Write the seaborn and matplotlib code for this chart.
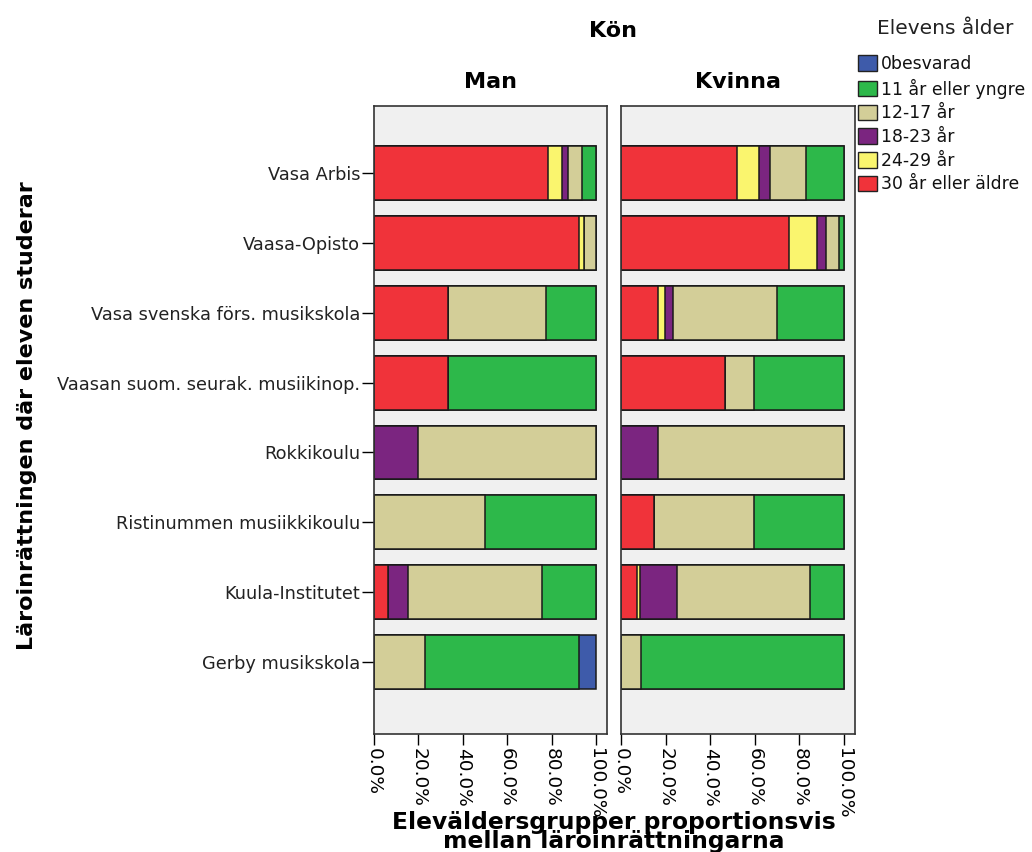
import pandas as pd
import matplotlib
matplotlib.use("Agg")
import matplotlib.pyplot as plt
from matplotlib.patches import Patch
import seaborn as sns

SKOLOR = ["Vasa Arbis", "Vaasa-Opisto", "Vasa svenska förs. musikskola",
          "Vaasan suom. seurak. musiikinop.", "Rokkikoulu",
          "Ristinummen musiikkikoulu", "Kuula-Institutet", "Gerby musikskola"]

# åldersgrupper i staplingsordning (vänster -> höger)
ALDER = ["30 år eller äldre", "24-29 år", "18-23 år", "12-17 år",
         "11 år eller yngre", "0besvarad"]
FARGER = ["#F0333A", "#FAF56E", "#7B2580", "#D3CE98", "#2DB84A", "#3E5BAA"]

KON = ["Man", "Kvinna"]

# procent per åldersgrupp, i skolornas ordning
MAN_30 = [78.5, 92.5, 33.3, 33.3, 0, 0, 6.5, 0]
MAN_24 = [6.0, 2.2, 0, 0, 0, 0, 0, 0]
MAN_18 = [3.0, 0, 0, 0, 20.0, 0, 8.7, 0]
MAN_12 = [6.3, 5.3, 44.4, 0, 80.0, 50.0, 60.3, 23.1]
MAN_11 = [6.2, 0, 22.3, 66.7, 0, 50.0, 24.5, 69.2]
MAN_0 = [0, 0, 0, 0, 0, 0, 0, 7.7]

KVI_30 = [52.1, 75.4, 16.6, 46.8, 0, 14.9, 7.2, 0]
KVI_24 = [9.7, 12.7, 3.1, 0, 0, 0, 1.5, 0]
KVI_18 = [5.1, 3.8, 3.8, 0, 16.7, 0, 16.6, 0]
KVI_12 = [16.1, 5.7, 46.7, 13.1, 83.3, 45.0, 59.5, 9.0]
KVI_11 = [17.0, 2.4, 29.8, 40.1, 0, 40.1, 15.2, 91.0]
KVI_0 = [0, 0, 0, 0, 0, 0, 0, 0]

VARDEN = {
    "Man": [MAN_30, MAN_24, MAN_18, MAN_12, MAN_11, MAN_0],
    "Kvinna": [KVI_30, KVI_24, KVI_18, KVI_12, KVI_11, KVI_0],
}

# långt format + kumulativa summor för staplingen
rader = []
for kon in KON:
    for a, alder in enumerate(ALDER):
        for s, skola in enumerate(SKOLOR):
            rader.append({"kon": kon, "alder": alder, "skola": skola,
                          "andel": VARDEN[kon][a][s], "ordning": a})
df = pd.DataFrame(rader).sort_values(["kon", "skola", "ordning"])
df["kum"] = df.groupby(["kon", "skola"])["andel"].cumsum()

sns.set_style("white")
plt.rcParams["font.family"] = ["DejaVu Sans"]
plt.rcParams["text.color"] = "black"
plt.rcParams["xtick.color"] = "black"
plt.rcParams["ytick.color"] = "black"

fig = plt.figure(figsize=(10.32, 8.52), dpi=100)
H = 852
W = 1032
paneler = {"Man": (374, 607), "Kvinna": (621, 855)}
topp, botten = 106, 734

for kon in KON:
    x0, x1 = paneler[kon]
    ax = fig.add_axes([x0 / W, 1 - botten / H, (x1 - x0) / W, (botten - topp) / H])
    ax.set_facecolor("#F0F0F0")
    # rita största kumulativa först så att mindre lager hamnar ovanpå
    for a in reversed(range(len(ALDER))):
        sub = df[(df["kon"] == kon) & (df["alder"] == ALDER[a])]
        sns.barplot(data=sub, x="kum", y="skola", order=SKOLOR, orient="h",
                    color=FARGER[a], saturation=1, width=0.77, errorbar=None,
                    edgecolor="#1a1a1a", linewidth=1.1, ax=ax)
    ax.set_xlim(0, 105)
    ax.set_ylim(7 + 1.03, -0.96)
    ax.set_xlabel("")
    ax.set_ylabel("")
    ax.set_xticks([0, 20, 40, 60, 80, 100])
    ax.set_xticklabels(["0.0%", "20.0%", "40.0%", "60.0%", "80.0%", "100.0%"],
                       rotation=-90, fontsize=13.3, va="top", ha="center")
    ax.tick_params(axis="x", bottom=True, length=8, width=1, pad=2, direction="out")
    if kon == "Man":
        ax.tick_params(axis="y", left=True, length=9, width=1, pad=1, direction="out")
        for t in ax.get_yticklabels():
            t.set_fontsize(12.8)
            t.set_color("#222222")
    else:
        ax.tick_params(axis="y", left=False, labelleft=False)
    for sp in ax.spines.values():
        sp.set_color("#333333")
        sp.set_linewidth(1.2)
    ax.set_title(kon, fontsize=16, fontweight="bold", pad=13, color="black")

fig.text(613 / W, 1 - 31 / H, "Kön", ha="center", va="center",
         fontsize=16, fontweight="bold")
fig.text(27 / W, 1 - 416 / H, "Läroinrättningen där eleven studerar",
         rotation=90, ha="center", va="center", fontsize=16, fontweight="bold")
fig.text(614 / W, 1 - 832 / H, "Eleväldersgrupper proportionsvis\nmellan läroinrättningarna",
         ha="center", va="center", fontsize=16.8, fontweight="bold", linespacing=0.8)

# legend: rubrik som egen text, poster under
fig.text(945 / W, 1 - 28 / H, "Elevens ålder", ha="center", va="center",
         fontsize=14.5, color="#222222")
handtag = [Patch(facecolor=FARGER[a], edgecolor="#222222", label=ALDER[a])
           for a in reversed(range(len(ALDER)))]
leg = fig.legend(handles=handtag, loc="upper left", bbox_to_anchor=(851 / W, 1 - 48 / H),
                 frameon=False, handlelength=1.1,
                 handleheight=1.0, handletextpad=0.25, labelspacing=0.33,
                 borderaxespad=0, prop={"size": 12.4})
for t in leg.get_texts():
    t.set_color("#111111")

fig.savefig("out.png", dpi=100, facecolor="white")
